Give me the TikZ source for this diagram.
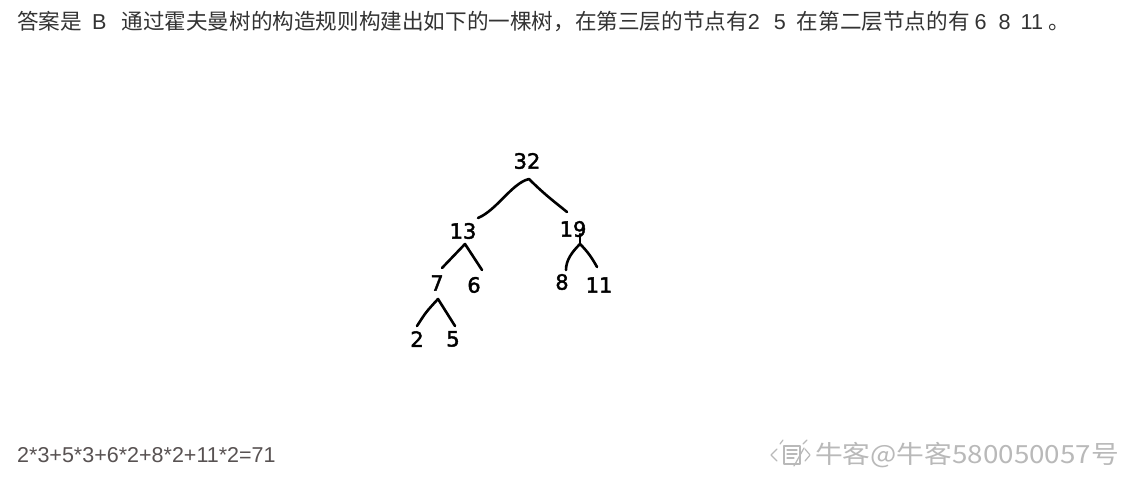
\documentclass[tikz,border=0pt]{standalone}
\usepackage{fontspec}
\setmainfont{Liberation Sans}
\newfontfamily\cjk{Noto Sans CJK SC}
\newfontfamily\hand{DejaVu Sans}[FakeBold=2]
\definecolor{txt}{RGB}{51,51,51}
\definecolor{formula}{RGB}{88,82,82}
\definecolor{wm}{RGB}{185,185,185}
\begin{document}
\begin{tikzpicture}[x=1pt,y=-1pt,
  digit/.style={font=\hand\fontsize{21}{21}\selectfont, inner sep=0pt, text=black},
  edge/.style={line width=2.6pt, line cap=round, line join=round, draw=black},
  para/.style={anchor=west, inner sep=0pt}]
\useasboundingbox[fill=white] (0,0) rectangle (1126,479);
% header text
\node[para, text=txt] (head) at (17,22) {\fontsize{21.6}{23}\selectfont
  {\cjk 答案是}\hspace{10pt}B\hspace{15pt}{\cjk 通过霍夫曼树的构造规则构建出如下的一棵树，在第三层的节点有}2\hspace{14pt}5\hspace{11pt}{\cjk 在第二层节点的有}\hspace{5pt}6\hspace{12pt}8\hspace{10pt}11\hspace{5pt}{\cjk 。}};
% tree numbers
\node[digit] (n32) at (527,161) {32};
\node[digit] (n13) at (463,231) {13};
\node[digit] (n19) at (573,229) {19};
\node[digit] (n7) at (437,283) {7};
\node[digit] (n6) at (474,285) {6};
\node[digit] (n8) at (562,282) {8};
\node[digit] (n11) at (599,285) {11};
\node[digit] (n2) at (417,339) {2};
\node[digit] (n5) at (453,339) {5};
% edge anchor points
\coordinate (a32) at (529,179);
\coordinate (l32) at (478,218);
\coordinate (r32) at (567,212);
\coordinate (a13) at (465,244);
\coordinate (l13) at (442,268);
\coordinate (r13) at (482,270);
\coordinate (t19) at (580,234);
\coordinate (a19) at (580,244);
\coordinate (l19) at (566,270);
\coordinate (r19) at (597,267);
\coordinate (a7) at (438,299);
\coordinate (l7) at (417,326);
\coordinate (r7) at (455,326);
% edges
\draw[edge] (l32) .. controls (497,210) and (512,183) .. (a32) .. controls (545,195) and (556,203) .. (r32);
\draw[edge] (l13) -- (a13) -- (r13);
\draw[edge] (t19) -- (a19);
\draw[edge] (a19) .. controls (572,252) and (566,260) .. (l19);
\draw[edge] (a19) .. controls (588,252) and (592,258) .. (r19);
\draw[edge] (l7) .. controls (426,312) .. (a7) .. controls (446,312) .. (r7);
% formula
\node[para, text=formula] (formula) at (17,455) {\fontsize{21.5}{23}\selectfont 2*3+5*3+6*2+8*2+11*2=71};
% watermark icon
\begin{scope}[draw=wm, line width=1.2pt, line cap=round, line join=round]
\draw (784,446) rectangle (800,464);
\draw (787,450) -- (797,450) (787,454) -- (797,454) (787,458) -- (794,458);
\draw (794,466) -- (804,448);
\draw (777,449) -- (771,455) -- (777,461);
\draw (805,449) -- (810,455) -- (805,461);
\draw (780,444) -- (783,440) (803,444) -- (807,440);
\end{scope}
\node[para, text=wm] (wmark) at (815,455) {\cjk\fontsize{25}{27}\selectfont\scalebox{1.11}[1]{牛客@牛客580050057号}};
\end{tikzpicture}
\end{document}
